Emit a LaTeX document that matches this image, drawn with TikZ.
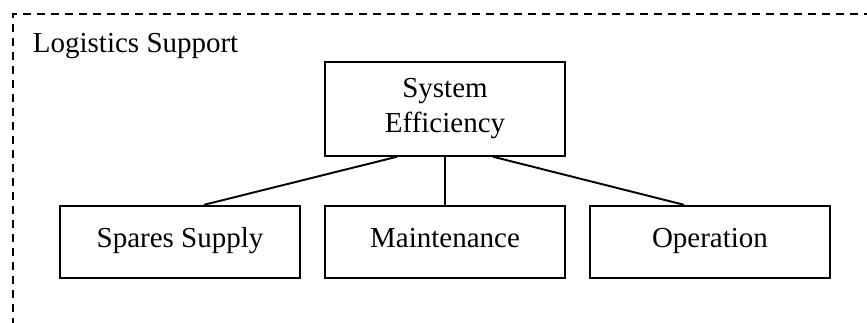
\documentclass[tikz,border=0pt]{standalone}
\usepackage{fontspec}
\setmainfont{Liberation Serif}
\usetikzlibrary{calc, positioning}
\tikzset{%
  every path/.style={line width=0.8pt},
    link/.style={%
        -,
        draw=black,
    },
    block/.style={%
        rectangle,
        draw=black,
        minimum width=99pt,
        minimum height=30pt,
        text height=0.7em,
        text depth=0.22em,
        font=\fontsize{12}{14.5}\selectfont,
        text centered,
    },
    topblock/.style={%
        block,
        align=center,
        text height=,
        text depth=,
        minimum height=39pt,
    },
    frame/.style={%
        draw=black,
        dash pattern=on 3.3pt off 2.5pt,
    },
}

\begin{document}
\begin{tikzpicture}[x=0.414pt, y=-0.414pt, node distance=19.9pt and 9.9pt]
	\useasboundingbox (0, 0) rectangle (867, 323);

	% outer dashed frame, runs off the page on the right and bottom
	\draw[frame] (13, 340) -- (13, 14) -- (880, 14);
	\node [anchor=base west, inner sep=0pt, font=\fontsize{12}{14.5}\selectfont] at (32, 53) (support) {Logistics Support};

	\coordinate (middle) at (445, 242);

	\node [block,] at (middle) (maint) {Maintenance};
	\node [block, left=of maint] (spares) {Spares Supply};
	\node [block, right=of maint] (oper) {Operation};
	\node [topblock, above=of maint] (sys) {System\\Efficiency};

	\draw[link] ($(sys.south) + (-48, 0)$) -- ($(spares.north) + (24, 0)$);
	\draw[link] (sys.south) -- (maint.north);
	\draw[link] ($(sys.south) + (48, 0)$) -- ($(oper.north) + (-26, 0)$);
\end{tikzpicture}
\end{document}
